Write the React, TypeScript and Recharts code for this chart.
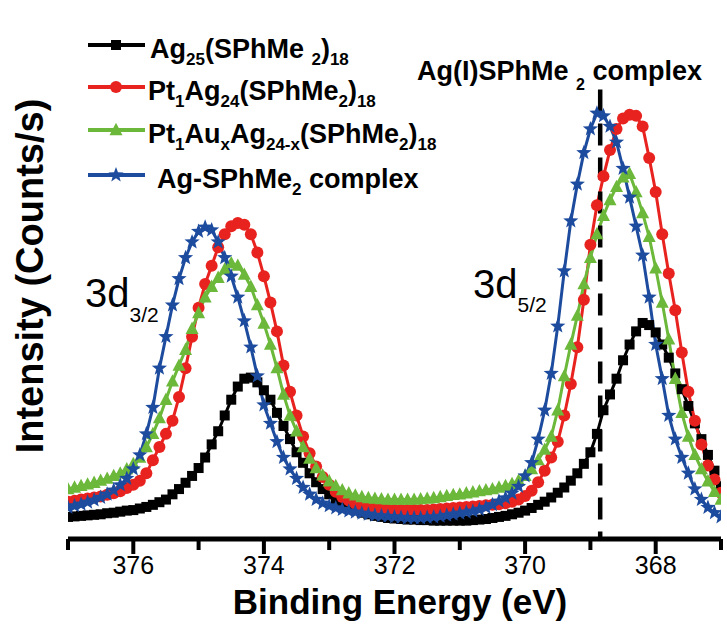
import React from "react";
import { LineChart, Line, XAxis, YAxis, ReferenceLine, Legend } from "recharts";

const ENERGY = [
  377.0, 376.9, 376.8, 376.7, 376.6, 376.5, 376.4, 376.3, 376.2, 376.1,
  376.0, 375.9, 375.8, 375.7, 375.6, 375.5, 375.4, 375.3, 375.2, 375.1,
  375.0, 374.9, 374.8, 374.7, 374.6, 374.5, 374.4, 374.3, 374.2, 374.1,
  374.0, 373.9, 373.8, 373.7, 373.6, 373.5, 373.4, 373.3, 373.2, 373.1,
  373.0, 372.9, 372.8, 372.7, 372.6, 372.5, 372.4, 372.3, 372.2, 372.1,
  372.0, 371.9, 371.8, 371.7, 371.6, 371.5, 371.4, 371.3, 371.2, 371.1,
  371.0, 370.9, 370.8, 370.7, 370.6, 370.5, 370.4, 370.3, 370.2, 370.1,
  370.0, 369.9, 369.8, 369.7, 369.6, 369.5, 369.4, 369.3, 369.2, 369.1,
  369.0, 368.9, 368.8, 368.7, 368.6, 368.5, 368.4, 368.3, 368.2, 368.1,
  368.0, 367.9, 367.8, 367.7, 367.6, 367.5, 367.4, 367.3, 367.2, 367.1,
  367.0,
];

// intensities, arbitrary units (0-100 of the frame height)
const AG25 = [
  4.7, 4.8, 4.9, 5.0, 5.1, 5.2, 5.4, 5.5, 5.7, 5.9,
  6.0, 6.3, 6.6, 7.0, 7.5, 8.0, 9.0, 10.0, 11.2, 12.5,
  14.0, 16.0, 18.5, 21.0, 24.0, 27.0, 29.5, 31.0, 31.2, 30.3,
  28.8, 27.0, 24.5, 22.0, 19.5, 17.0, 15.0, 13.0, 11.3, 10.0,
  9.0, 8.0, 7.2, 6.5, 6.0, 5.5, 5.2, 4.9, 4.7, 4.5,
  4.4, 4.3, 4.2, 4.2, 4.1, 4.1, 4.0, 4.0, 4.0, 4.0,
  4.0, 4.0, 4.1, 4.2, 4.3, 4.5, 4.7, 4.9, 5.2, 5.5,
  5.9, 6.4, 7.0, 7.6, 8.4, 9.3, 10.3, 11.6, 13.0, 14.8,
  17.0, 20.5, 25.0, 28.0, 31.0, 34.5, 37.5, 40.0, 41.6, 41.2,
  39.8, 37.5, 35.0, 32.0, 29.0, 25.8, 22.5, 19.5, 16.5, 13.5,
  10.5,
];

const PT1AG24 = [
  7.6, 7.8, 8.0, 8.2, 8.4, 8.6, 8.9, 9.2, 9.6, 10.2,
  10.8, 11.6, 13.0, 15.5, 18.0, 20.5, 23.0, 27.5, 33.0, 39.0,
  44.5, 49.0, 52.5, 56.0, 58.5, 60.0, 60.6, 60.3, 58.5, 55.0,
  50.5, 45.5, 40.0, 33.5, 28.5, 24.0, 20.0, 16.8, 14.3, 12.3,
  10.8, 9.5, 8.5, 7.8, 7.2, 6.8, 6.5, 6.3, 6.2, 6.1,
  6.0, 6.0, 6.0, 6.0, 6.0, 6.0, 6.1, 6.2, 6.3, 6.4,
  6.5, 6.6, 6.7, 6.8, 6.9, 7.0, 7.1, 7.3, 7.6, 8.0,
  8.7, 9.7, 11.3, 13.5, 16.0, 19.0, 24.0, 30.0, 37.0, 46.0,
  56.5, 64.0, 69.5, 74.5, 78.5, 80.5, 81.2, 81.0, 79.0, 73.0,
  66.5, 58.5, 51.0, 44.0, 36.0, 28.5, 23.0, 18.5, 14.5, 11.8,
  9.3,
];

const PT1AUX = [
  10.0, 10.3, 10.6, 10.9, 11.2, 11.6, 12.0, 12.5, 13.0, 13.8,
  14.8, 16.0, 18.0, 20.5, 23.5, 27.0, 30.5, 33.5, 36.5, 40.5,
  43.5, 46.5, 48.5, 50.2, 51.8, 53.0, 52.5, 50.8, 48.5, 45.0,
  41.5, 37.5, 33.0, 28.0, 24.0, 21.0, 18.0, 15.8, 14.0, 12.6,
  11.5, 10.6, 9.8, 9.2, 8.8, 8.5, 8.3, 8.2, 8.1, 8.0,
  8.0, 8.0, 8.0, 8.0, 8.1, 8.2, 8.3, 8.5, 8.7, 8.9,
  9.0, 9.2, 9.4, 9.6, 9.8, 10.0, 10.3, 10.6, 11.0, 11.6,
  12.5, 13.8, 15.5, 17.5, 20.0, 25.0, 31.5, 37.5, 43.0, 49.0,
  54.0, 58.5, 62.0, 65.0, 67.5, 69.3, 70.0, 66.5, 62.5, 58.0,
  52.0, 45.5, 38.5, 31.0, 24.5, 20.0, 16.5, 13.8, 11.5, 9.5,
  8.0,
];

const AG_COMPLEX = [
  6.5, 6.8, 7.1, 7.5, 7.9, 8.4, 9.0, 9.8, 10.8, 12.0,
  13.8, 16.5, 20.5, 25.5, 33.0, 39.0, 45.0, 50.0, 54.0, 57.0,
  59.0, 59.8, 59.3, 57.0, 54.0, 50.5, 46.5, 42.0, 37.0, 31.5,
  26.0, 22.5, 19.0, 16.0, 13.8, 12.0, 10.3, 9.0, 8.0, 7.3,
  6.8, 6.4, 6.1, 5.8, 5.6, 5.4, 5.2, 5.0, 4.9, 4.8,
  4.7, 4.6, 4.5, 4.5, 4.5, 4.6, 4.7, 4.8, 5.0, 5.2,
  5.4, 5.6, 5.8, 6.1, 6.5, 7.0, 7.7, 8.3, 9.2, 10.5,
  12.5, 15.0, 19.5, 25.0, 32.0, 41.0, 51.5, 61.0, 68.0, 74.0,
  78.5, 81.5, 81.0, 79.0, 76.0, 71.0, 65.5, 60.0, 54.5, 46.5,
  37.5, 31.0, 24.0, 19.5, 16.0, 13.0, 10.0, 8.0, 6.5, 5.5,
  4.7,
];

const X_TICKS = [377, 376, 375, 374, 373, 372, 371, 370, 369, 368, 367];
const Y_TICKS = [10, 20, 30, 40, 50, 60, 70, 80, 90];
const AG_I_LINE = 368.85;

const FONT = "'Liberation Sans', Arial, Helvetica, sans-serif";
const RED = "#e8231f";
const GREEN = "#6cb83a";
const BLUE = "#1d4b9e";

const rows = ENERGY.map((energy, i) => ({
  energy,
  ag25: AG25[i],
  pt1ag24: PT1AG24[i],
  pt1aux: PT1AUX[i],
  agComplex: AG_COMPLEX[i],
}));

function starPoints(cx: number, cy: number, R: number, r: number) {
  const pts: string[] = [];
  for (let k = 0; k < 10; k++) {
    const rad = k % 2 === 0 ? R : r;
    const a = -Math.PI / 2 + (k * Math.PI) / 5;
    pts.push(`${cx + rad * Math.cos(a)},${cy + rad * Math.sin(a)}`);
  }
  return pts.join(" ");
}

const Square = ({ cx, cy, size = 10 }: any) => (
  <rect x={cx - size / 2} y={cy - size / 2} width={size} height={size} fill="#000" />
);
const Dot = ({ cx, cy, r = 6 }: any) => <circle cx={cx} cy={cy} r={r} fill={RED} />;
const Tri = ({ cx, cy, s = 13 }: any) => (
  <polygon
    points={`${cx},${cy - s * 0.55} ${cx - s / 2},${cy + s * 0.4} ${cx + s / 2},${cy + s * 0.4}`}
    fill={GREEN}
  />
);
const Star = ({ cx, cy, R = 8 }: any) => <polygon points={starPoints(cx, cy, R, R * 0.42)} fill={BLUE} />;

const dotOf = (Shape: any) => (p: any) => <Shape key={`m-${p.index}`} cx={p.cx} cy={p.cy} />;

function XTick({ x, y, payload }: any) {
  const major = payload.value % 2 === 0;
  return (
    <g>
      <line x1={x} x2={x} y1={y} y2={y + (major ? 15 : 11)} stroke="#000" strokeWidth={4} />
      {major && (
        <text x={x} y={y + 35} textAnchor="middle" fontSize={25} fontFamily={FONT} fill="#000">
          {payload.value}
        </text>
      )}
    </g>
  );
}

const YTick = (side: "l" | "r") => ({ x, y }: any) => (
  <line x1={x} x2={side === "l" ? x + 6 : x - 6} y1={y} y2={y} stroke="#000" strokeWidth={2.5} />
);

// label pieces: [text, isSubscript]
type Piece = [string, boolean];

function Rich({ pieces, x, y, size, subSize, shift, ...rest }: any) {
  let prevSub = false;
  return (
    <text x={x} y={y} fontSize={size} {...rest}>
      {pieces.map(([t, sub]: Piece, i: number) => {
        const dy = sub && !prevSub ? shift : !sub && prevSub ? -shift : 0;
        prevSub = sub;
        return (
          <tspan key={i} dy={dy} fontSize={sub ? subSize : size}>
            {t}
          </tspan>
        );
      })}
    </text>
  );
}

const LEGEND_LABELS: Piece[][] = [
  [["Ag", false], ["25", true], ["(SPhMe ", false], ["2", true], [")", false], ["18", true]],
  [["Pt", false], ["1", true], ["Ag", false], ["24", true], ["(SPhMe", false], ["2", true], [")", false], ["18", true]],
  [
    ["Pt", false], ["1", true], ["Au", false], ["x", true], ["Ag", false], ["24-x", true],
    ["(SPhMe", false], ["2", true], [")", false], ["18", true],
  ],
  [["Ag-SPhMe", false], ["2", true], [" complex", false]],
];

function LegendBox() {
  const items = [
    { y: 45, color: "#000", Shape: Square, tx: 150 },
    { y: 87, color: RED, Shape: Dot, tx: 148 },
    { y: 130, color: GREEN, Shape: Tri, tx: 148 },
    { y: 175, color: BLUE, Shape: Star, tx: 157 },
  ];
  return (
    <svg width={727} height={200} style={{ display: "block" }}>
      {items.map((it, i) => (
        <g key={i}>
          <line x1={88} x2={145} y1={it.y} y2={it.y} stroke={it.color} strokeWidth={4} />
          <it.Shape cx={116} cy={it.y} />
          <Rich
            pieces={LEGEND_LABELS[i]}
            x={it.tx}
            y={it.y + 13}
            size={27}
            subSize={17}
            shift={7}
            fontWeight="bold"
            fontFamily={FONT}
            fill="#000"
          />
        </g>
      ))}
    </svg>
  );
}

export default function App() {
  return (
    <div style={{ position: "absolute", left: 0, top: 0, width: 727, height: 628, background: "#fff" }}>
      <LineChart width={727} height={628} data={rows} margin={{ top: 16, right: 6, bottom: 0, left: 68 }}>
        <XAxis
          dataKey="energy"
          type="number"
          domain={[367, 377]}
          reversed
          ticks={X_TICKS}
          interval={0}
          allowDataOverflow
          tickLine={false}
          tickSize={0}
          tickMargin={0}
          tick={XTick}
          axisLine={{ stroke: "#000", strokeWidth: 5 }}
          height={89}
        />
        <XAxis
          xAxisId="top"
          orientation="top"
          type="number"
          domain={[367, 377]}
          reversed
          tick={false}
          tickLine={false}
          height={0}
          axisLine={{ stroke: "#000", strokeWidth: 5 }}
        />
        <YAxis
          type="number"
          domain={[0.5, 100]}
          ticks={Y_TICKS}
          width={0}
          tickLine={false}
          tickSize={0}
          tickMargin={0}
          tick={YTick("l")}
          axisLine={{ stroke: "#000", strokeWidth: 5 }}
          allowDataOverflow
        />
        <YAxis
          yAxisId="r"
          orientation="right"
          type="number"
          domain={[0.5, 100]}
          ticks={Y_TICKS}
          width={0}
          tickLine={false}
          tickSize={0}
          tickMargin={0}
          tick={YTick("r")}
          axisLine={{ stroke: "#000", strokeWidth: 5 }}
        />
        <Legend
          layout="horizontal"
          verticalAlign="middle"
          align="center"
          content={() => <LegendBox />}
          wrapperStyle={{ left: 0, top: 0, width: 727, height: 200 }}
        />
        <Line dataKey="ag25" stroke="#000" strokeWidth={3} dot={dotOf(Square)} activeDot={false} isAnimationActive={false} />
        <Line dataKey="pt1ag24" stroke={RED} strokeWidth={3} dot={dotOf(Dot)} activeDot={false} isAnimationActive={false} />
        <Line dataKey="pt1aux" stroke={GREEN} strokeWidth={3} dot={dotOf(Tri)} activeDot={false} isAnimationActive={false} />
        <Line dataKey="agComplex" stroke={BLUE} strokeWidth={3} dot={dotOf(Star)} activeDot={false} isAnimationActive={false} />
        <ReferenceLine
          segment={[
            { x: AG_I_LINE, y: 86 },
            { x: AG_I_LINE, y: 0.5 },
          ]}
          stroke="#000"
          strokeWidth={4.5}
          strokeDasharray="22 12"
        />
      </LineChart>
      <svg
        width={727}
        height={628}
        style={{ position: "absolute", left: 0, top: 0, pointerEvents: "none" }}
        fontFamily={FONT}
      >
        <text transform="translate(43,276) rotate(-90)" textAnchor="middle" fontSize={38} fontWeight="bold">
          Intensity (Counts/s)
        </text>
        <text x={400} y={614} textAnchor="middle" fontSize={35} fontWeight="bold">
          Binding Energy (eV)
        </text>
        <Rich pieces={[["3d", false], ["3/2", true]]} x={85} y={307} size={40} subSize={21} shift={15} />
        <Rich pieces={[["3d", false], ["5/2", true]]} x={473} y={298} size={40} subSize={21} shift={14} />
        <Rich
          pieces={[["Ag(I)SPhMe ", false], ["2", true], [" complex", false]]}
          x={417}
          y={80}
          size={27}
          subSize={16}
          shift={10}
          fontWeight="bold"
        />
      </svg>
    </div>
  );
}
